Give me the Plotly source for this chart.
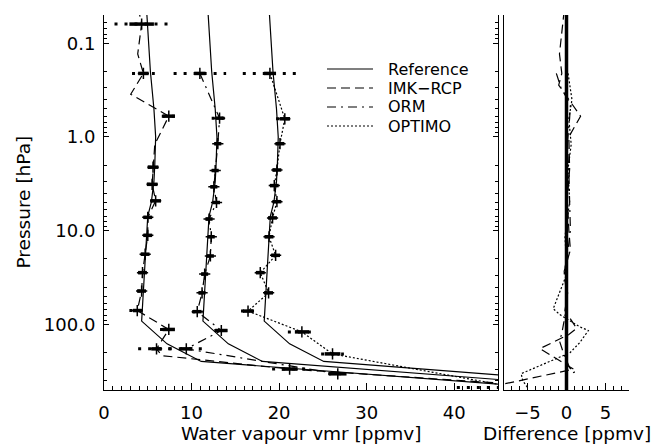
import numpy as np
import plotly.graph_objects as go

# ---------------------------------------------------------------
# Reference water-vapour profile (ppmv) on pressure levels (hPa)
# ---------------------------------------------------------------
ref_p = [0.05, 0.1, 0.2, 0.5, 1.0, 2.0, 3.0, 5.0, 7.0, 10.0, 20.0, 30.0,
         50.0, 70.0, 92.0, 161.0, 248.0, 500.0]
ref_v = [4.9, 5.1, 5.3, 5.7, 5.9, 5.8, 5.7, 5.4, 5.0, 4.9, 4.7, 4.55,
         4.4, 4.35, 4.3, 7.2, 11.1, 53.6]

# horizontal shift of each retrieval's panel column (ppmv)
offsets = {"IMK\u2212RCP": 0.0, "ORM": 7.0, "OPTIMO": 14.0}

# ---------------------------------------------------------------
# IMK-RCP retrieval
# ---------------------------------------------------------------
imk_line_p = [0.042, 0.0625, 0.13, 0.21, 0.35, 0.60, 1.2, 2.1, 3.2, 4.8, 7.2,
              11.2, 17.8, 28, 44, 71, 113, 182, 215, 299, 440]
imk_line_v = [3.9, 4.3, 3.85, 4.5, 3.05, 7.4, 5.8, 5.6, 5.5, 5.9, 5.0,
              5.0, 4.7, 4.4, 4.3, 3.8, 7.4, 6.0, 6.6, 21.2, 48.0]
imk_p = [0.0625, 0.21, 0.60, 2.1, 3.2, 4.8, 7.2, 11.2, 17.8, 28, 44, 71, 113, 182, 299]
imk_v = [4.3, 4.5, 7.4, 5.6, 5.5, 5.9, 5.0, 5.0, 4.7, 4.4, 4.3, 3.8, 7.4, 6.0, 21.2]
imk_noise = [1.4, 0.6, 0.7, 0.6, 0.6, 0.6, 0.5, 0.5, 0.5, 0.5, 0.5, 0.5, 0.7, 0.6, 0.9]
imk_total = [3.1, 1.3, 0.8, 0.6, 0.6, 0.6, 0.5, 0.5, 0.5, 0.5, 0.5, 0.9, 1.0, 2.1, 2.0]
imk_diff_p = [0.045, 0.063, 0.13, 0.21, 0.28, 0.6, 1.0, 2.2, 4.7, 9.8, 16, 27,
              43, 71, 110, 128, 181, 300, 440]
imk_diff_v = [-0.3, -0.5, -0.9, -0.6, -1.0, 1.8, 0.3, 0.4, 0.1, 0.3, 0.5, -0.3,
              0.2, -0.2, 1.3, 0.3, -3.4, 0.9, -8.5]

# ---------------------------------------------------------------
# ORM retrieval
# ---------------------------------------------------------------
orm_p = [0.21, 0.63, 1.18, 2.28, 3.4, 5.0, 7.5, 11.6, 18.6, 29, 46, 73, 116, 182, 336]
orm_v = [3.95, 6.2, 6.0, 5.7, 5.55, 5.85, 5.0, 5.25, 5.15, 4.5, 4.2, 3.65, 6.4, 2.4, 19.7]
orm_noise = [0.65, 0.45, 0.4, 0.4, 0.4, 0.4, 0.4, 0.4, 0.4, 0.4, 0.4, 0.5, 0.7, 0.7, 1.0]
orm_total = [3.0, 0.9, 0.4, 0.4, 0.4, 0.4, 0.4, 0.4, 0.4, 0.4, 0.4, 0.6, 0.8, 2.0, 1.1]
orm_diff_p = [0.21, 0.3, 0.45, 0.63, 1.2, 2.3, 5.0, 9.8, 16, 28, 46, 73, 125,
              150, 200, 290, 320, 340]
orm_diff_v = [-1.3, -0.7, 0.5, 0.4, 0.1, 0.3, 0.4, 0.5, 0.2, -0.3, 0.0, -0.1, -0.6,
              -0.9, -0.4, 0.4, 1.1, 0.4]

# ---------------------------------------------------------------
# OPTIMO retrieval
# ---------------------------------------------------------------
opt_p = [0.21, 0.64, 1.18, 2.25, 3.3, 4.9, 7.3, 11.6, 18.3, 28, 46, 72, 120, 206, 470]
opt_v = [4.95, 6.65, 6.1, 5.75, 5.45, 5.75, 5.25, 4.85, 5.6, 3.85, 4.8, 2.45, 8.6, 12.1, 33.0]
opt_noise = [0.7, 0.6, 0.5, 0.5, 0.5, 0.5, 0.5, 0.5, 0.5, 0.5, 0.5, 0.6, 0.8, 0.9, 1.5]
opt_total = [3.1, 1.0, 0.5, 0.5, 0.5, 0.5, 0.5, 0.5, 0.5, 0.5, 0.5, 0.8, 1.6, 1.3, 6.7]
opt_diff_p = [0.21, 0.4, 0.64, 1.2, 2.2, 4.9, 11.6, 28, 68, 79, 106, 116, 156,
              200, 296, 335, 397, 483]
opt_diff_v = [0.2, 0.7, 0.3, 0.6, 0.2, 0.4, -0.2, 0.1, -1.7, -0.8, 1.7, 2.8, 1.7,
              0.45, -4.3, -5.8, -5.6, -4.9]

# axis labels
x_ticks = [0, 10, 20, 30, 40]
d_ticks = [-5, 0, 5]
p_ticks = [0.1, 1.0, 10.0, 100.0]
p_ticktext = ["0.1", "1.0", "10.0", "100.0"]
legend_names = ["Reference", "IMK\u2212RCP", "ORM", "OPTIMO"]

# line style per data set
dash = {
    "Reference": "solid",
    "IMK\u2212RCP": "9px,5px",
    "ORM": "9px,5px,2px,5px",
    "OPTIMO": "2px,2px",
}

retrievals = {
    "IMK\u2212RCP": dict(lp=imk_line_p, lv=imk_line_v, p=imk_p, v=imk_v,
                         noise=imk_noise, total=imk_total, dp=imk_diff_p, dv=imk_diff_v),
    "ORM": dict(lp=orm_p, lv=orm_v, p=orm_p, v=orm_v,
                noise=orm_noise, total=orm_total, dp=orm_diff_p, dv=orm_diff_v),
    "OPTIMO": dict(lp=opt_p, lv=opt_v, p=opt_p, v=opt_v,
                   noise=opt_noise, total=opt_total, dp=opt_diff_p, dv=opt_diff_v),
}

FONT = "DejaVu Sans"
fig = go.Figure()

# reference profile, repeated in each shifted column
for name, off in offsets.items():
    fig.add_trace(go.Scatter(
        x=np.array(ref_v) + off, y=ref_p, mode="lines",
        line=dict(color="black", width=1.2), xaxis="x", yaxis="y",
        showlegend=False, hoverinfo="skip"))

for name, r in retrievals.items():
    off = offsets[name]
    # retrieved profile
    fig.add_trace(go.Scatter(
        x=np.array(r["lv"]) + off, y=r["lp"], mode="lines",
        line=dict(color="black", width=1.2, dash=dash[name]),
        xaxis="x", yaxis="y", showlegend=False))
    # total error bars (dotted)
    xs, ys = [], []
    for v, e, p in zip(r["v"], r["total"], r["p"]):
        xs += [v + off - e, v + off + e, None]
        ys += [p, p, None]
    fig.add_trace(go.Scatter(
        x=xs, y=ys, mode="lines",
        line=dict(color="black", width=3, dash="3px,7px"),
        xaxis="x", yaxis="y", showlegend=False))
    # retrieval levels with noise error
    fig.add_trace(go.Scatter(
        x=np.array(r["v"]) + off, y=r["p"], mode="markers",
        marker=dict(symbol="cross-thin", size=8, color="black",
                    line=dict(color="black", width=1.5)),
        error_x=dict(type="data", array=r["noise"], color="black",
                     thickness=3.5, width=0),
        xaxis="x", yaxis="y", showlegend=False))
    # difference to reference
    fig.add_trace(go.Scatter(
        x=r["dv"], y=r["dp"], mode="lines",
        line=dict(color="black", width=1.2, dash=dash[name]),
        xaxis="x2", yaxis="y2", showlegend=False))

# reference minus itself: zero line of the difference panel
fig.add_trace(go.Scatter(
    x=np.array(ref_v) - np.array(ref_v), y=ref_p, mode="lines",
    line=dict(color="black", width=3.5), xaxis="x2", yaxis="y2",
    showlegend=False))

W, H = 654, 444
L, R, T, B = 104, 25, 15, 54
pw, ph = W - L - R, H - T - B


def px_x(x):
    return (x - L) / pw


def px_y(y):
    return (H - B - y) / ph


yrange = [np.log10(500), np.log10(0.05)]
minor_p = [m * 10.0 ** k for k in range(-2, 3) for m in range(2, 10)]

tick_font = dict(family=FONT, size=18, color="black")
axis_common = dict(showgrid=False, zeroline=False, showline=True,
                   linecolor="black", linewidth=1, ticks="inside",
                   tickcolor="black", tickwidth=1, tickfont=tick_font)

fig.update_layout(
    width=W, height=H,
    margin=dict(l=L, r=R, t=T, b=B),
    paper_bgcolor="white", plot_bgcolor="white",
    xaxis=dict(domain=[0, px_x(498)], range=[0, 45], tickvals=x_ticks,
               ticklen=7, anchor="y", ticklabelstandoff=6,
               minor=dict(dtick=1, ticklen=4, ticks="inside", tickcolor="black",
                          showgrid=False),
               **axis_common),
    yaxis=dict(type="log", range=yrange, tickvals=p_ticks, ticktext=p_ticktext,
               ticklen=5, anchor="x", mirror="ticks", ticklabelstandoff=4,
               minor=dict(tickvals=minor_p, ticklen=3, ticks="inside",
                          tickcolor="black", showgrid=False),
               **axis_common),
    xaxis2=dict(domain=[px_x(504), 1], range=[-8, 8], tickvals=d_ticks,
                ticklen=7, anchor="y2", ticklabelstandoff=6,
                minor=dict(dtick=1, ticklen=4, ticks="inside", tickcolor="black",
                           showgrid=False),
                **axis_common),
    yaxis2=dict(type="log", range=yrange, anchor="x2", showgrid=False,
                zeroline=False, showline=True, linecolor="black", linewidth=1,
                ticks="", showticklabels=False),
)

text_font = dict(family=FONT, size=18.5, color="black")
legend_font = dict(family=FONT, size=16, color="black")
annotations = [
    dict(text="Water vapour vmr [ppmv]", xref="paper", yref="paper",
         x=px_x(301), y=px_y(433), xanchor="center", yanchor="middle",
         showarrow=False, font=text_font),
    dict(text="Difference [ppmv]", xref="paper", yref="paper",
         x=px_x(566.5), y=px_y(433), xanchor="center", yanchor="middle",
         showarrow=False, font=text_font),
    dict(text="Pressure [hPa]", xref="paper", yref="paper",
         x=px_x(23), y=px_y(202.5), xanchor="center", yanchor="middle",
         textangle=-90, showarrow=False, font=text_font),
]

# legend: line samples and names
shapes = []
row_y = [69.0, 88.0, 107.0, 126.0]
for name, yy in zip(legend_names, row_y):
    shapes.append(dict(type="line", xref="paper", yref="paper",
                       x0=px_x(327), x1=px_x(373), y0=px_y(yy), y1=px_y(yy),
                       line=dict(color="black", width=1.2, dash=dash[name])))
    annotations.append(dict(text=name, xref="paper", yref="paper",
                            x=px_x(386), y=px_y(yy), xanchor="left",
                            yanchor="middle", showarrow=False, font=legend_font))

fig.update_layout(annotations=annotations, shapes=shapes)
fig.write_html("out.html")
